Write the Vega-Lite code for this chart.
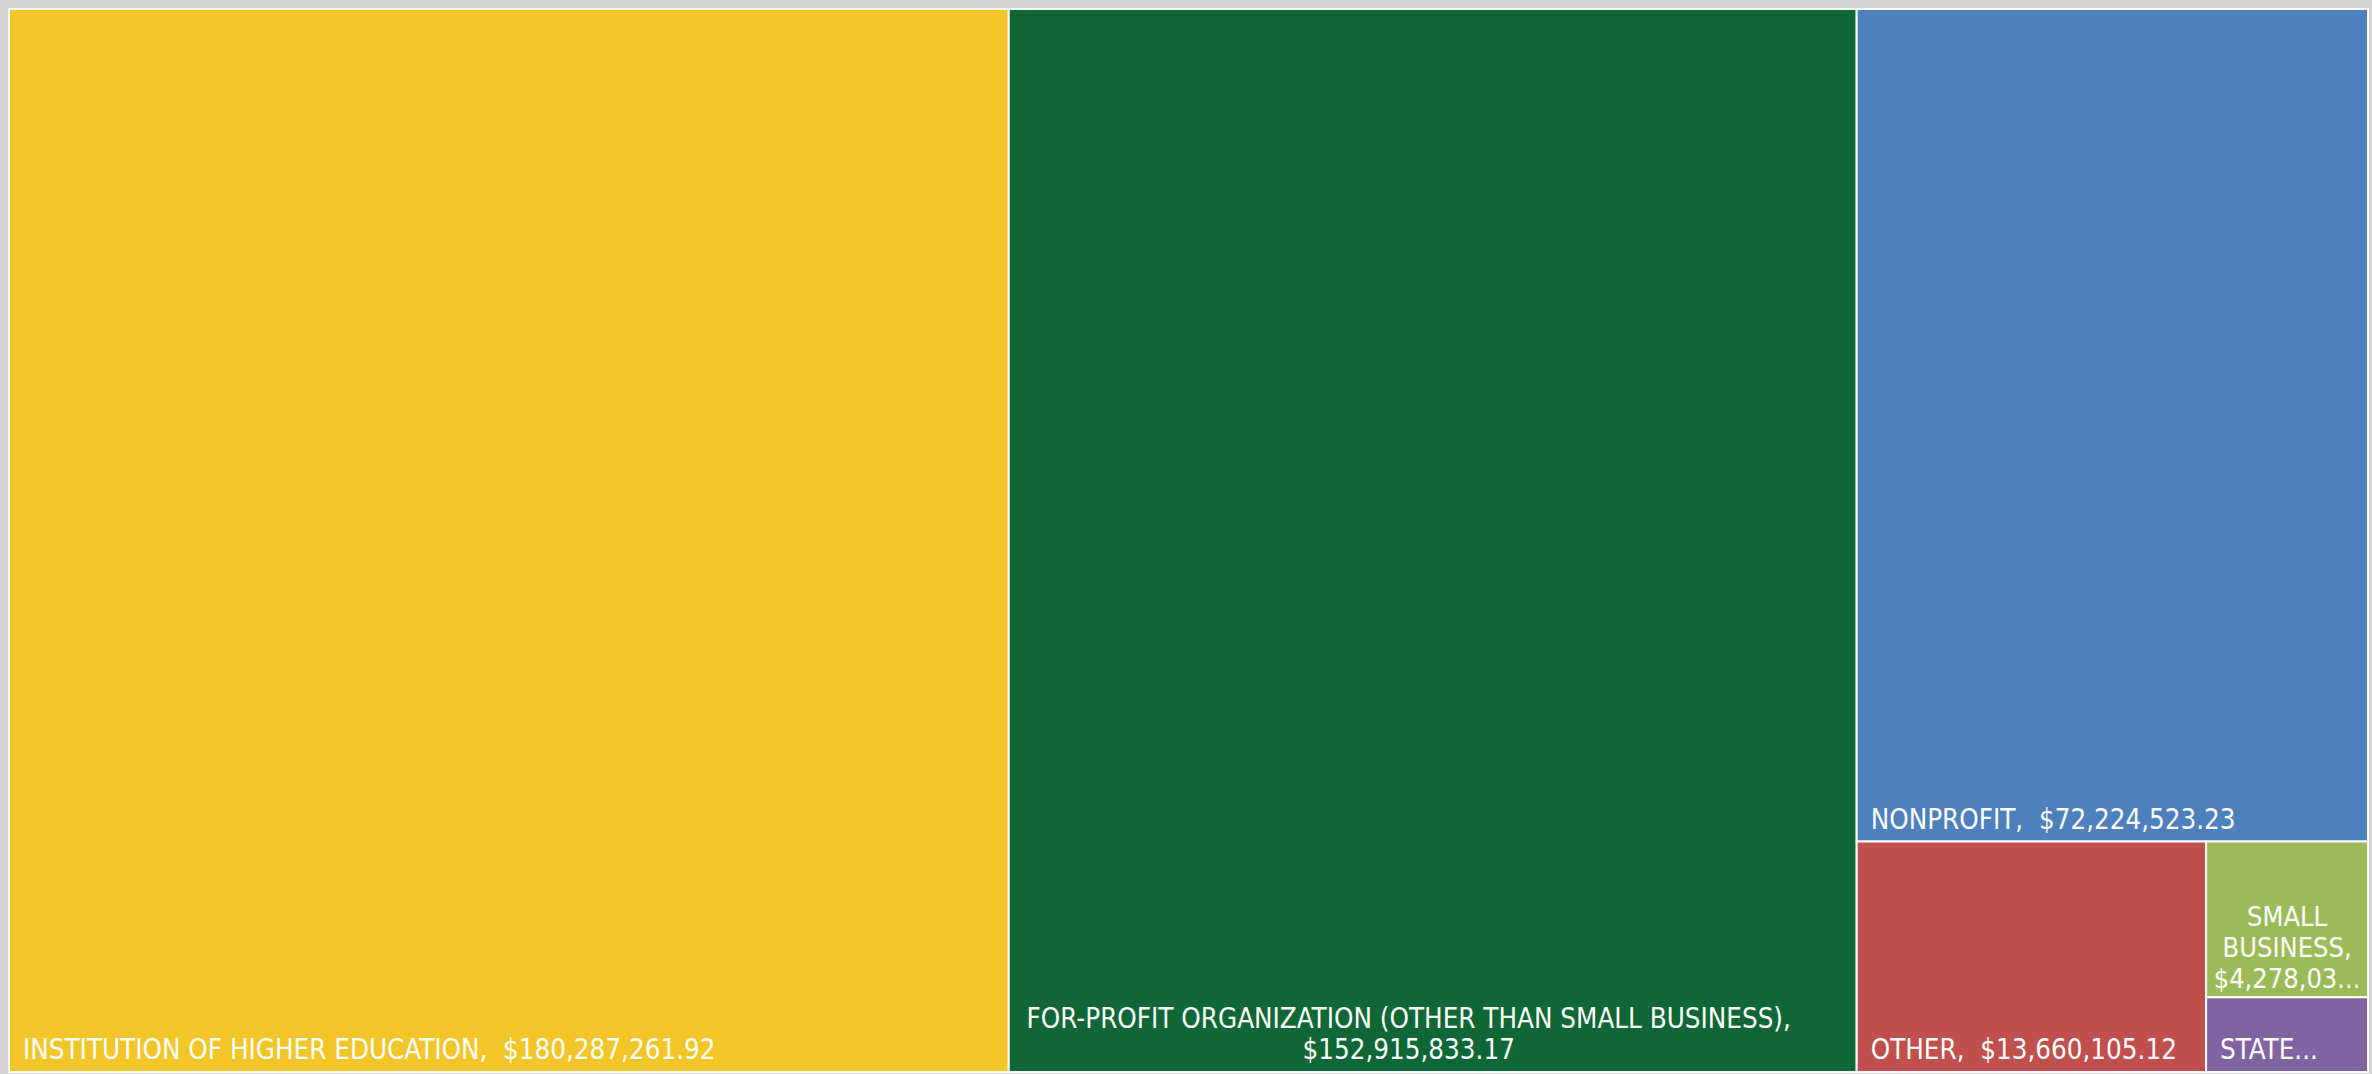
{
  "$schema": "https://vega.github.io/schema/vega-lite/v6.json",
  "autosize": {"type": "fit", "contains": "padding"},
  "width": 2372,
  "height": 1074,
  "padding": {"left": 8, "top": 8, "right": 3, "bottom": 1},
  "background": "#d3d3d3",
  "config": {"view": {"stroke": "white", "strokeWidth": 2}},
  "data": {
    "values": [
      {"name": "INSTITUTION OF HIGHER EDUCATION", "value": 180287261.92, "col": 1, "row": 1, "cell": 1, "order": 1, "label": "INSTITUTION OF HIGHER EDUCATION,\u00a0 $180,287,261.92"},
      {"name": "FOR-PROFIT ORGANIZATION (OTHER THAN SMALL BUSINESS)", "value": 152915833.17, "col": 2, "row": 1, "cell": 1, "order": 2, "label": ["FOR-PROFIT ORGANIZATION (OTHER THAN SMALL BUSINESS),", "$152,915,833.17"]},
      {"name": "NONPROFIT", "value": 72224523.23, "col": 3, "row": 1, "cell": 1, "order": 3, "label": "NONPROFIT,\u00a0 $72,224,523.23"},
      {"name": "OTHER", "value": 13660105.12, "col": 3, "row": 2, "cell": 1, "order": 4, "label": "OTHER,\u00a0 $13,660,105.12"},
      {"name": "SMALL BUSINESS", "value": 4278030, "col": 3, "row": 2, "cell": 2, "order": 5, "label": ["SMALL", "BUSINESS,", "$4,278,03..."]},
      {"name": "STATE", "value": 2050000, "col": 3, "row": 2, "cell": 2, "order": 6, "label": "STATE..."}
    ]
  },
  "transform": [
    {"stack": "value", "groupby": [], "sort": [{"field": "order", "order": "ascending"}], "as": ["s0", "s1"]},
    {"joinaggregate": [{"op": "min", "field": "s0", "as": "cx0"}, {"op": "max", "field": "s1", "as": "cx1"}], "groupby": ["col"]},
    {"stack": "value", "groupby": ["col"], "sort": [{"field": "order", "order": "ascending"}], "offset": "normalize", "as": ["r0", "r1"]},
    {"joinaggregate": [{"op": "min", "field": "r0", "as": "ry0"}, {"op": "max", "field": "r1", "as": "ry1"}], "groupby": ["col", "row"]},
    {"stack": "value", "groupby": ["col", "row"], "sort": [{"field": "order", "order": "ascending"}], "offset": "normalize", "as": ["c0", "c1"]},
    {"joinaggregate": [{"op": "min", "field": "c0", "as": "cf0"}, {"op": "max", "field": "c1", "as": "cf1"}], "groupby": ["col", "row", "cell"]},
    {"stack": "value", "groupby": ["col", "row", "cell"], "sort": [{"field": "order", "order": "ascending"}], "offset": "normalize", "as": ["i0", "i1"]},
    {"calculate": "datum.cx0 + datum.cf0 * (datum.cx1 - datum.cx0)", "as": "x0"},
    {"calculate": "datum.cx0 + datum.cf1 * (datum.cx1 - datum.cx0)", "as": "x1"},
    {"calculate": "(datum.x0 + datum.x1) / 2", "as": "xm"},
    {"calculate": "datum.ry0 + datum.i0 * (datum.ry1 - datum.ry0)", "as": "y0"},
    {"calculate": "datum.ry0 + datum.i1 * (datum.ry1 - datum.ry0)", "as": "y1"}
  ],
  "encoding": {
    "x": {"type": "quantitative", "scale": {"nice": false, "zero": true}, "axis": null},
    "y": {"type": "quantitative", "scale": {"nice": false, "zero": true, "reverse": true, "domain": [0, 1]}, "axis": null}
  },
  "layer": [
    {
      "mark": {"type": "rect", "stroke": "white", "strokeWidth": 2},
      "encoding": {
        "x": {"field": "x0", "type": "quantitative"},
        "x2": {"field": "x1"},
        "y": {"field": "y0", "type": "quantitative"},
        "y2": {"field": "y1"},
        "color": {
          "field": "name",
          "type": "nominal",
          "legend": null,
          "scale": {
            "domain": ["INSTITUTION OF HIGHER EDUCATION", "FOR-PROFIT ORGANIZATION (OTHER THAN SMALL BUSINESS)", "NONPROFIT", "OTHER", "SMALL BUSINESS", "STATE"],
            "range": ["#F2C628", "#0F6636", "#4D80BD", "#C0504D", "#9BBB59", "#8064A2"]
          }
        }
      }
    },
    {
      "transform": [{"filter": "!isArray(datum.label)"}],
      "mark": {"type": "text", "align": "left", "baseline": "alphabetic", "dx": 14, "dy": -13, "color": "white", "font": "DejaVu Sans Condensed", "fontSize": 27.5},
      "encoding": {
        "x": {"field": "x0", "type": "quantitative"},
        "y": {"field": "y1", "type": "quantitative"},
        "text": {"field": "label"}
      }
    },
    {
      "transform": [{"filter": "isArray(datum.label) && length(datum.label) == 2"}],
      "mark": {"type": "text", "align": "center", "baseline": "alphabetic", "dx": -24, "dy": -44, "lineHeight": 31, "color": "white", "font": "DejaVu Sans Condensed", "fontSize": 27.5},
      "encoding": {
        "x": {"field": "xm", "type": "quantitative"},
        "y": {"field": "y1", "type": "quantitative"},
        "text": {"field": "label"}
      }
    },
    {
      "transform": [{"filter": "isArray(datum.label) && length(datum.label) == 3"}],
      "mark": {"type": "text", "align": "center", "baseline": "alphabetic", "dy": -71, "lineHeight": 31, "color": "white", "font": "DejaVu Sans Condensed", "fontSize": 27},
      "encoding": {
        "x": {"field": "xm", "type": "quantitative"},
        "y": {"field": "y1", "type": "quantitative"},
        "text": {"field": "label"}
      }
    }
  ]
}
